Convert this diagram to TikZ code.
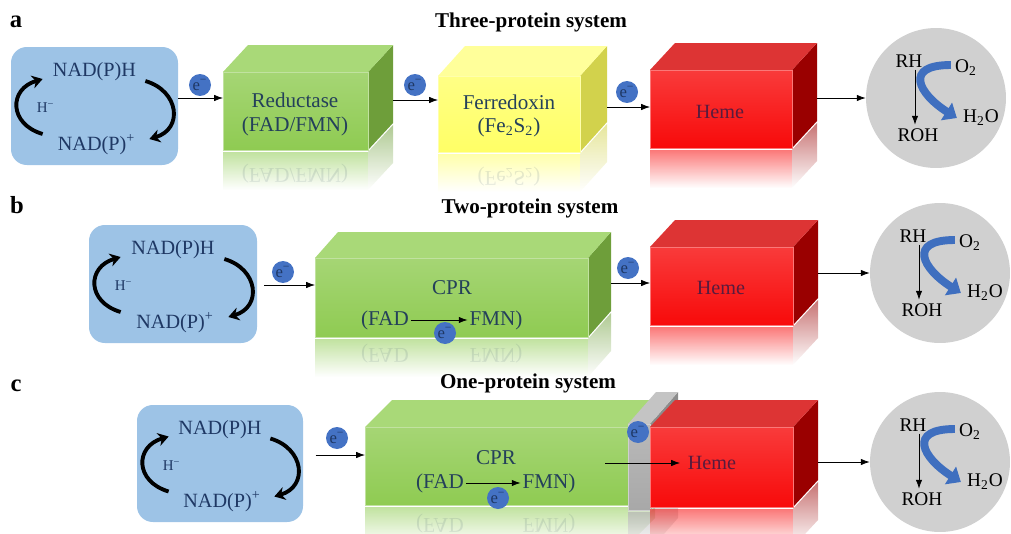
\documentclass[tikz,border=0pt]{standalone}
\usepackage{fontspec}
\setmainfont{Liberation Serif}
\usetikzlibrary{arrows.meta,positioning,calc,fadings}
\definecolor{cofblue}{HTML}{9DC3E6}
\definecolor{navy}{HTML}{1F3864}
\definecolor{boxink}{HTML}{24405A}
\definecolor{hemeink}{HTML}{5A1B3D}
\definecolor{ecirc}{HTML}{4472C4}
\definecolor{greenfront}{HTML}{8FCB52}
\definecolor{greentop}{HTML}{A9D978}
\definecolor{greenside}{HTML}{6E9E3A}
\definecolor{yellowfront}{HTML}{FFFF66}
\definecolor{yellowtop}{HTML}{FFFF9A}
\definecolor{yellowside}{HTML}{D2D24C}
\definecolor{redfront}{HTML}{F80A0A}
\definecolor{redtop}{HTML}{DD3434}
\definecolor{redside}{HTML}{9A0000}
\definecolor{platefront}{HTML}{A8A8A8}
\definecolor{platetop}{HTML}{C4C4C4}
\definecolor{plateside}{HTML}{8C8C8C}
\definecolor{prodgray}{HTML}{D0D0D0}
\definecolor{arcblue}{HTML}{3F6FBF}
\tikzfading[name=reflect, top color=transparent!45, bottom color=transparent!100]
\tikzstyle{cof} = [rectangle,rounded corners=9pt,fill=cofblue,inner sep=0pt]
\tikzstyle{nad} = [text=navy,inner sep=0pt,font=\fontsize{11.5}{13}\selectfont]
\tikzstyle{hyd} = [text=navy,inner sep=0pt,font=\fontsize{8.5}{10}\selectfont]
\tikzstyle{elec} = [circle,fill=ecirc,inner sep=0pt,minimum size=0.44cm,text=navy,font=\fontsize{9.5}{10}\selectfont]
\tikzstyle{boxtext} = [text=boxink,inner sep=1pt,font=\fontsize{12}{14}\selectfont]
\tikzstyle{hemetext} = [text=hemeink,inner sep=1pt,font=\fontsize{11.5}{13}\selectfont]
\tikzstyle{reflected} = [yscale=-1,opacity=.12]
\tikzstyle{systitle} = [inner sep=0pt,font=\bfseries\fontsize{12}{14}\selectfont]
\tikzstyle{panelletter} = [inner sep=0pt,font=\bfseries\fontsize{14}{16}\selectfont]
\tikzstyle{prod} = [circle,fill=prodgray,inner sep=0pt,minimum size=2.8cm]
\tikzstyle{prodtext} = [inner sep=0pt,font=\fontsize{11}{13}\selectfont]
\tikzstyle{cyc} = [line width=2.2pt,-{Stealth[length=6pt,width=7.5pt]}]
\tikzstyle{bluearc} = [arcblue,line width=4.5pt,-{Triangle[length=7pt,width=11.5pt]}]
\tikzset{>={Latex[length=5pt,width=3.6pt]}}

% name, x1, y1, x2, y2
\newcommand{\cofactor}[5]{%
    \node[cof,minimum width={(#4-#2)*0.02cm},minimum height={(#5-#3)*0.02cm}] (#1) at ({(#2+#4)/2},{(#3+#5)/2}) {};
    \node[nad] (#1-h) at ($(#1.north)+(0,25)$) {NAD(P)H};
    \node[nad] (#1-p) at ($(#1.south)+(2,-21)$) {NAD(P)\textsuperscript{+}};
    \node[hyd] (#1-x) at ($(#1.west)+(35,2)$) {H\textsuperscript{−}};
    \draw[cyc] ($(#1.west)+(32,28)$) .. controls +(-34,-10) and +(-34,10) .. ($(#1.west)+(32,-27)$);
    \draw[cyc] ($(#1.east)+(-33,-25)$) .. controls +(34,10) and +(34,-10) .. ($(#1.east)+(-29,33)$);
}
% name, x1, y1, x2, y2, depth x, depth y, colour
\newcommand{\cuboid}[8]{%
    \fill[#8side] (#4,#3) -- ++(#6,-#7) -- ++(0,{#5-#3}) -- (#4,#5) -- cycle;
    \fill[#8top] (#2,#3) -- ++(#6,-#7) -- ++({#4-#2},0) -- (#4,#3) -- cycle;
    \shadedraw[draw=#8front!55!white,line width=.4pt,top color=#8front!80!white,bottom color=#8front] (#2,#3) rectangle (#4,#5);
    \fill[#8front,path fading=reflect] (#2,{#5+2}) rectangle (#4,{#5+40});
    \fill[#8side,path fading=reflect] (#4,{#5+2}) -- ++(#6,-#7) -- ++(0,38) -- (#4,{#5+40}) -- cycle;
    \coordinate (#1-w) at (#2,{(#3+#5)/2});
    \coordinate (#1-e) at ({#4+#6},{(#3+#5)/2});
}
% name, centre x, centre y
\newcommand{\prodcircle}[3]{%
    \node[prod] (#1) at (#2,#3) {};
    \node[prodtext] (#1-rh) at ({#2-27},{#3-37}) {RH};
    \node[prodtext] (#1-roh) at ({#2-18},{#3+37}) {ROH};
    \node[prodtext] (#1-o2) at ({#2+30},{#3-30}) {O\textsubscript{2}};
    \node[prodtext] (#1-h2o) at ({#2+45},{#3+20}) {H\textsubscript{2}O};
    \coordinate (#1-d) at ($(#1-rh.south)+(6,2)$);
    \draw[->,shorten >=2pt] (#1-d) -- (#1-d |- #1-roh.north);
    \draw[bluearc] ($(#1-o2.west)+(-4,-3)$) .. controls +(-48,0) and +(-38,-24) .. ($(#1-h2o.west)+(-6,0)$);
}

\begin{document}
\begin{tikzpicture}[x=0.02cm,y=-0.02cm]
    \useasboundingbox (0,0) rectangle (1011,534);
    % a
    \node[panelletter] (la) at (16,22) {a};
    \node[systitle] (ta) at (531,22) {Three-protein system};
    \cofactor{nadA}{11}{47}{178}{165}
    \cuboid{redA}{223}{72}{368}{150}{25}{27}{green}
    \node[boxtext] (redA-t) at (295,100) {Reductase};
    \node[boxtext] (redA-s) at (295,126) {(FAD/FMN)};
    \node[boxtext,reflected] (redA-m) at (295,174) {(FAD/FMN)};
    \cuboid{ferA}{438}{76}{580}{152}{27}{30}{yellow}
    \node[boxtext] (ferA-t) at (509,102) {Ferredoxin};
    \node[boxtext] (ferA-s) at (509,127) {(Fe\textsubscript{2}S\textsubscript{2})};
    \node[boxtext,reflected] (ferA-m) at (509,177) {(Fe\textsubscript{2}S\textsubscript{2})};
    \cuboid{hemeA}{650}{70}{792}{148}{25}{27}{red}
    \node[hemetext] (hemeA-t) at (720,112) {Heme};
    \prodcircle{prodA}{936}{98}
    \node[elec] (eA1) at (200,85) {e\textsuperscript{−}};
    \node[elec] (eA2) at (415,85) {e\textsuperscript{−}};
    \node[elec] (eA3) at (627,92) {e\textsuperscript{−}};
    \draw[->] (nadA.east |- 0,98) -- (redA-w |- 0,98);
    \draw[->] (redA-e |- 0,100) -- (ferA-w |- 0,100);
    \draw[->] (ferA-e |- 0,107) -- (hemeA-w |- 0,107);
    \draw[->] (hemeA-e |- prodA.west) -- (prodA.west);
    % b
    \node[panelletter] (lb) at (17,205) {b};
    \node[systitle] (tb) at (530,208) {Two-protein system};
    \cofactor{nadB}{89}{225}{257}{343}
    \cuboid{cprB}{315}{258}{588}{337}{23}{26}{green}
    \node[boxtext] (cprB-t) at (452,288) {CPR};
    \node[boxtext] (fadB) at (385,320) {(FAD};
    \node[boxtext] (fmnB) at (496,320) {FMN)};
    \node[boxtext,reflected] (fadB-m) at (385,354) {(FAD};
    \node[boxtext,reflected] (fmnB-m) at (496,354) {FMN)};
    \draw[->] (fadB.east) -- (fmnB.west);
    \node[elec] (eB3) at (445,333) {e\textsuperscript{−}};
    \cuboid{hemeB}{650}{247}{793}{325}{25}{27}{red}
    \node[hemetext] (hemeB-t) at (721,288) {Heme};
    \prodcircle{prodB}{940}{273}
    \node[elec] (eB1) at (283,272) {e\textsuperscript{−}};
    \node[elec] (eB2) at (628,268) {e\textsuperscript{−}};
    \draw[->,shorten <=4pt] (nadB.east |- 0,285) -- (cprB-w |- 0,285);
    \draw[->] (cprB-e |- 0,283) -- (hemeB-w |- 0,283);
    \draw[->] (hemeB-e |- prodB.west) -- (prodB.west);
    % c
    \node[panelletter] (lc) at (16,386) {c};
    \node[systitle] (tc) at (528,383) {One-protein system};
    \cofactor{nadC}{137}{405}{303}{522}
    \cuboid{cprC}{365}{427}{628}{505}{27}{27}{green}
    \cuboid{plate}{628}{424}{650}{510}{28}{32}{plate}
    \cuboid{hemeC}{650}{427}{793}{507}{25}{27}{red}
    \node[boxtext] (cprC-t) at (496,458) {CPR};
    \node[boxtext] (fadC) at (440,483) {(FAD};
    \node[boxtext] (fmnC) at (549,483) {FMN)};
    \node[boxtext,reflected] (fadC-m) at (440,524) {(FAD};
    \node[boxtext,reflected] (fmnC-m) at (549,524) {FMN)};
    \draw[->] (fadC.east) -- (fmnC.west);
    \node[elec] (eC3) at (498,498) {e\textsuperscript{−}};
    \node[hemetext] (hemeC-t) at (712,463) {Heme};
    \prodcircle{prodC}{940}{462}
    \node[elec] (eC1) at (337,438) {e\textsuperscript{−}};
    \node[elec] (eC2) at (638,432) {e\textsuperscript{−}};
    \coordinate (linkC-s) at (605,463);
    \coordinate (linkC-t) at (680,463);
    \draw[->,shorten <=7pt] (nadC.east |- 0,455) -- (cprC-w |- 0,455);
    \draw[->] (linkC-s) -- (linkC-t);
    \draw[->] (hemeC-e |- prodC.west) -- (prodC.west);
\end{tikzpicture}
\end{document}
